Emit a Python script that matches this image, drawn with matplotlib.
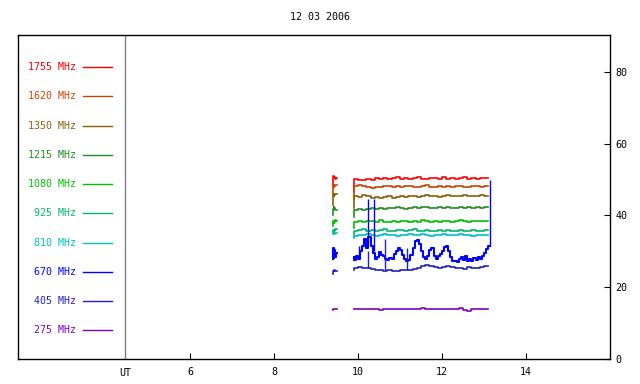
import numpy as np
import matplotlib
matplotlib.use('Agg')
import matplotlib.pyplot as plt

plt.rcParams['font.family'] = 'DejaVu Sans Mono'

title = '12 03 2006'
labels = ['1755 MHz', '1620 MHz', '1350 MHz', '1215 MHz', '1080 MHz',
          '925 MHz', '810 MHz', '670 MHz', '405 MHz', '275 MHz']
colors = ['#ff0000', '#c84400', '#86600a', '#228b22', '#00c000',
          '#00b868', '#00c0c0', '#0000ff', '#2020c0', '#8000c0']

# short early segment
t_short = [9.40, 9.42, 9.44, 9.46, 9.48, 9.50]
short_vals = [
    [48.5, 51.0, 50.6, 50.8, 50.2, 50.4],
    [45.8, 48.6, 48.0, 48.2, 48.5, 48.4],
    [43.0, 46.0, 45.4, 45.6, 46.1, 46.0],
    [40.0, 41.8, 42.3, 42.0, 41.5, 41.6],
    [37.2, 38.6, 38.0, 38.2, 38.7, 38.5],
    [35.4, 36.0, 35.6, 35.8, 36.2, 36.1],
    [34.8, 35.2, 34.8, 34.9, 35.2, 35.0],
    [27.8, 31.0, 28.2, 30.4, 28.4, 29.6],
    [23.8, 24.6, 24.9, 24.8, 24.5, 24.6],
    [13.6, 14.0, 14.0, 14.0, 13.9, 13.9],
]

# main segment, 0.1 h sampling (9.9 .. 13.1)
t_main = [9.9, 10.0, 10.1, 10.2, 10.3, 10.4, 10.5, 10.6, 10.7, 10.8, 10.9,
          11.0, 11.1, 11.2, 11.3, 11.4, 11.5, 11.6, 11.7, 11.8, 11.9, 12.0,
          12.1, 12.2, 12.3, 12.4, 12.5, 12.6, 12.7, 12.8, 12.9, 13.0, 13.1]
f1755 = [46.5, 50.2, 49.9, 49.8, 50.3, 50.0, 50.4, 50.2, 50.5, 50.1, 50.4,
         50.6, 50.3, 50.5, 50.2, 50.4, 50.6, 50.3, 50.1, 50.5, 50.4, 50.2,
         50.6, 50.3, 50.5, 50.2, 50.4, 50.6, 50.3, 50.5, 50.2, 50.4, 50.5]
f1620 = [44.5, 48.3, 48.6, 48.2, 47.9, 47.7, 47.9, 48.0, 48.3, 48.1, 47.9,
         48.2, 48.0, 48.3, 48.1, 47.8, 48.0, 48.2, 48.4, 48.0, 47.9, 48.2,
         48.0, 48.3, 47.9, 48.1, 48.2, 48.0, 47.8, 48.1, 48.3, 48.0, 48.2]
f1350 = [42.0, 45.4, 45.2, 45.6, 45.3, 45.0, 45.2, 44.9, 45.1, 45.3, 45.0,
         45.2, 45.4, 45.1, 45.3, 45.5, 45.2, 45.4, 45.6, 45.3, 45.5, 45.2,
         45.4, 45.6, 45.3, 45.5, 45.4, 45.6, 45.3, 45.5, 45.4, 45.6, 45.5]
f1215 = [39.5, 41.4, 41.7, 41.6, 41.9, 42.0, 41.8, 42.1, 41.9, 42.2, 42.0,
         42.3, 42.1, 41.9, 42.2, 42.4, 42.1, 42.3, 42.5, 42.2, 42.0, 42.3,
         42.1, 42.4, 42.2, 42.0, 42.3, 42.1, 42.4, 42.2, 42.3, 42.1, 42.3]
f1080 = [36.5, 38.3, 38.5, 38.2, 38.6, 38.4, 38.1, 38.7, 38.3, 38.2, 38.5,
         38.3, 38.6, 38.4, 38.2, 38.5, 38.3, 38.7, 38.4, 38.2, 38.5, 38.3,
         38.6, 38.4, 38.3, 38.5, 38.7, 38.4, 38.3, 38.6, 38.4, 38.5, 38.6]
f925 = [34.5, 35.6, 35.9, 36.1, 35.8, 36.0, 35.7, 35.9, 36.1, 35.8, 35.6,
        35.9, 36.0, 35.7, 35.9, 36.1, 35.8, 35.6, 35.9, 35.7, 35.8, 36.0,
        35.7, 35.9, 35.6, 35.8, 35.9, 35.7, 35.8, 36.0, 35.8, 35.7, 35.9]
f810 = [33.8, 34.4, 34.6, 34.5, 34.7, 34.6, 34.4, 34.6, 34.7, 34.5, 34.6,
        34.4, 34.6, 34.5, 34.7, 34.6, 34.5, 34.7, 34.6, 34.4, 34.6, 34.5,
        34.7, 34.6, 34.5, 34.6, 34.7, 34.5, 34.6, 34.4, 34.6, 34.5, 34.6]
f405 = [24.8, 25.5, 25.6, 25.3, 25.4, 25.2, 24.9, 24.7, 24.6, 24.7, 24.5,
        24.6, 24.8, 24.7, 24.9, 25.0, 25.4, 25.9, 26.3, 26.0, 25.7, 25.5,
        25.6, 25.9, 25.6, 25.3, 25.5, 25.2, 25.6, 25.4, 25.3, 25.6, 25.8]
f275 = [13.8, 13.8, 13.9, 13.8, 13.8, 13.8, 13.9, 13.7, 13.8, 14.0, 14.0,
        14.0, 14.0, 13.9, 13.8, 14.0, 14.0, 14.2, 14.0, 14.0, 13.8, 13.8,
        14.0, 14.0, 13.8, 14.0, 14.3, 13.6, 13.4, 14.0, 14.0, 13.8, 14.0]

# 670 MHz is the active one, 0.05 h sampling
t_670 = [9.90, 9.95, 10.00, 10.05, 10.10, 10.15, 10.20, 10.25, 10.30, 10.35,
         10.40, 10.45, 10.50, 10.55, 10.60, 10.65, 10.70, 10.75, 10.80, 10.85,
         10.90, 10.95, 11.00, 11.05, 11.10, 11.15, 11.20, 11.25, 11.30, 11.35,
         11.40, 11.45, 11.50, 11.55, 11.60, 11.65, 11.70, 11.75, 11.80, 11.85,
         11.90, 11.95, 12.00, 12.05, 12.10, 12.15, 12.20, 12.25, 12.30, 12.35,
         12.40, 12.45, 12.50, 12.55, 12.60, 12.65, 12.70, 12.75, 12.80, 12.85,
         12.90, 12.95, 13.00, 13.05, 13.10, 13.15]
f670 = [28.5, 27.5, 28.8, 28.0, 30.0, 31.5, 33.5, 31.0, 34.0, 31.5,
        29.5, 28.0, 28.5, 29.8, 29.0, 28.6, 27.8, 27.5, 28.2, 28.0,
        29.2, 30.2, 31.0, 30.4, 29.0, 27.8, 27.2, 27.6, 29.0, 31.0,
        32.8, 33.2, 32.0, 30.0, 28.5, 27.8, 28.8, 30.5, 30.8, 28.6,
        27.8, 28.8, 29.2, 30.2, 31.2, 31.5, 30.0, 28.5, 27.2, 27.4,
        27.0, 27.8, 28.4, 27.6, 28.6, 27.4, 28.0, 27.2, 28.2, 27.6,
        28.4, 28.0, 28.8, 29.6, 30.6, 31.5]

main_vals = [f1755, f1620, f1350, f1215, f1080, f925, f810, None, f405, f275]

# isolated spikes: (series index, time, base value, top value)
spike_idx = [7, 7, 7, 7, 8, 8, 8]
spike_t = [10.03, 10.23, 10.39, 13.15, 10.24, 10.64, 11.17]
spike_base = [28.5, 32.0, 30.0, 31.5, 25.3, 24.7, 24.7]
spike_top = [31.5, 44.7, 44.7, 50.0, 30.0, 33.5, 31.0]

fig = plt.figure(figsize=(6.4, 3.84), dpi=100)
ax = fig.add_axes([18 / 640, 25 / 384, 592 / 640, 324 / 384])
fs = 7.2

for i, c in enumerate(colors):
    lw = 1.5 if i == 7 else 1.2
    ax.plot(t_short, short_vals[i], color=c, lw=lw, drawstyle='steps-pre')
    if i == 7:
        ax.plot(t_670, f670, color=c, lw=lw, drawstyle='steps-pre')
    else:
        ax.plot(t_main, main_vals[i], color=c, lw=lw, drawstyle='steps-pre')

for k in range(len(spike_t)):
    ax.vlines(spike_t[k], spike_base[k], spike_top[k], color=colors[spike_idx[k]], lw=1.0)

# legend panel on the left
for i, (lab, c) in enumerate(zip(labels, colors)):
    yy = 81.3 - 8.14 * i
    ax.text(3.29, yy, lab, color=c, fontsize=fs, ha='right', va='center')
    ax.plot([3.45, 4.14], [yy, yy], color=c, lw=1.0)

ax.axvline(4.45, color='#808080', lw=1.0)
ax.text(4.45, -2.6, 'UT', fontsize=fs, ha='center', va='top')

ax.set_xlim(1.905, 16.0)
ax.set_ylim(0, 90.3)
ax.set_xticks([6, 8, 10, 12, 14])
ax.set_yticks([0, 20, 40, 60, 80])
ax.yaxis.tick_right()
ax.tick_params(axis='x', direction='in', length=4, labelsize=fs, pad=6)
ax.tick_params(axis='y', direction='in', length=4, labelsize=fs, pad=4,
               left=False, right=True)
for s in ax.spines.values():
    s.set_linewidth(1.0)

fig.text(0.5, 1 - 17 / 384, title, fontsize=fs, ha='center', va='center')

fig.savefig('out.png', dpi=100)
